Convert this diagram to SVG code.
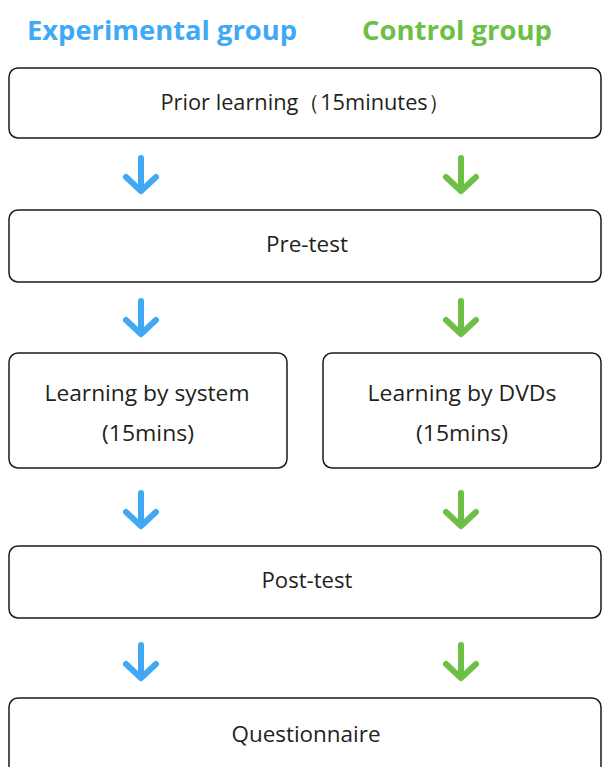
<svg xmlns="http://www.w3.org/2000/svg" width="603" height="767" viewBox="0 0 603 767">
<style>
.box{fill:#fff;stroke:#1a1a1a;stroke-width:1.5}
.t{font-family:"Open Sans","Liberation Sans",sans-serif;font-size:22px;fill:#231f20;text-anchor:middle}
.h{font-family:"Open Sans","Liberation Sans",sans-serif;font-size:27px;font-weight:bold;text-anchor:middle}
.ab{stroke:#3fa9f5;stroke-width:6;fill:none;stroke-linecap:round;stroke-linejoin:round}
.ag{stroke:#6dbf45;stroke-width:6;fill:none;stroke-linecap:round;stroke-linejoin:round}
</style>
<g id="headers">
<text class="h" x="162" y="40" fill="#3fa9f5" textLength="270" lengthAdjust="spacingAndGlyphs">Experimental group</text>
<text class="h" x="457" y="40" fill="#6dbf45" textLength="190" lengthAdjust="spacingAndGlyphs">Control group</text>
</g>
<g id="prior"><rect class="box" x="9" y="68" width="592" height="70" rx="9"/><text class="t" x="305" y="110" textLength="289" lengthAdjust="spacingAndGlyphs">Prior learning（15minutes）</text></g>
<g id="pretest"><rect class="box" x="9" y="210" width="592" height="72" rx="9"/><text class="t" x="307" y="252" textLength="82" lengthAdjust="spacingAndGlyphs">Pre-test</text></g>
<g id="system"><rect class="box" x="9" y="353" width="278" height="115" rx="9"/><text class="t" x="147" y="401" textLength="205" lengthAdjust="spacingAndGlyphs">Learning by system</text><text class="t" x="148" y="441" textLength="92" lengthAdjust="spacingAndGlyphs">(15mins)</text></g>
<g id="dvds"><rect class="box" x="323" y="353" width="278" height="115" rx="9"/><text class="t" x="462" y="401" textLength="189" lengthAdjust="spacingAndGlyphs">Learning by DVDs</text><text class="t" x="462" y="441" textLength="92" lengthAdjust="spacingAndGlyphs">(15mins)</text></g>
<g id="posttest"><rect class="box" x="9" y="546" width="592" height="72" rx="9"/><text class="t" x="307" y="588" textLength="91" lengthAdjust="spacingAndGlyphs">Post-test</text></g>
<g id="questionnaire"><rect class="box" x="9" y="698" width="592" height="80" rx="9"/><text class="t" x="306" y="742" textLength="149" lengthAdjust="spacingAndGlyphs">Questionnaire</text></g>
<g id="connectors">
<path class="ab" d="M141 158V191M126 177L141 191L156 177"/>
<path class="ag" d="M461 158V191M446 177L461 191L476 177"/>
<path class="ab" d="M141 301V334M126 320L141 334L156 320"/>
<path class="ag" d="M461 301V334M446 320L461 334L476 320"/>
<path class="ab" d="M141 493V526M126 512L141 526L156 512"/>
<path class="ag" d="M461 493V526M446 512L461 526L476 512"/>
<path class="ab" d="M141 645V678M126 664L141 678L156 664"/>
<path class="ag" d="M461 645V678M446 664L461 678L476 664"/>
</g>
</svg>
